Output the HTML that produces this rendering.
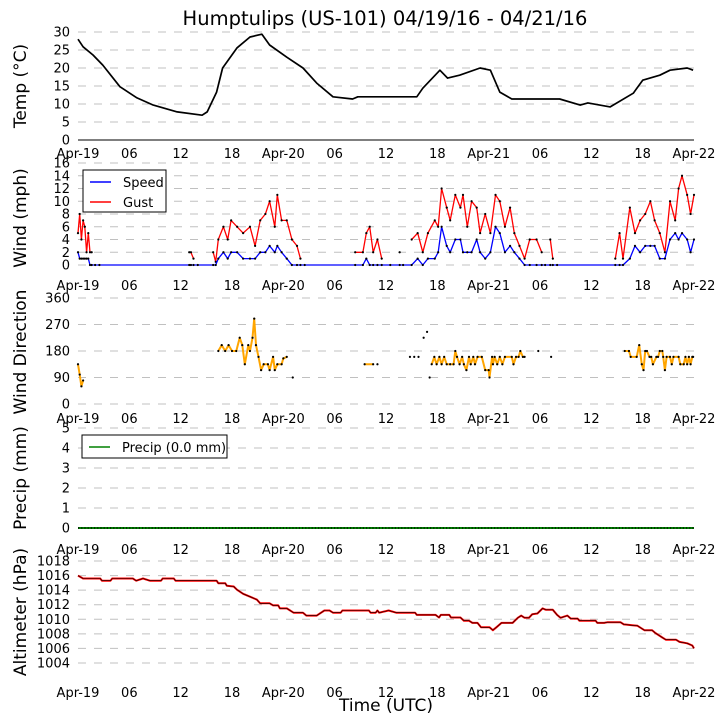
<!DOCTYPE html>
<html><head><meta charset="utf-8">
<style>
body{margin:0;background:#fff;}
svg{display:block;font-family:"DejaVu Sans","Liberation Sans",sans-serif;}
</style></head>
<body>
<svg id="chart" width="725" height="725" viewBox="0 0 725 725" xmlns="http://www.w3.org/2000/svg">
<text x="385" y="25" font-size="19.5" text-anchor="middle">Humptulips (US-101) 04/19/16 - 04/21/16</text>
<text x="386" y="711" font-size="17" text-anchor="middle">Time (UTC)</text>
<g id="panels"></g>
</svg>
<script>
const xTickLabels = ["Apr-19","06","12","18","Apr-20","06","12","18","Apr-21","06","12","18","Apr-22"];
const xTickHours = [0,6,12,18,24,30,36,42,48,54,60,66,72];

const tempHours = [0,0.6,1.75,2.9,4.9,6.9,8.8,11.6,14.5,15.1,16.2,16.9,18.6,20.1,21.5,22.4,24.4,26.3,27.9,29.8,32.1,32.7,39.6,40.3,42.3,43.2,44.6,47,48.2,49.3,50.7,56.3,58.7,59.6,62.2,64.9,66,68,69.2,71.2,71.9];
const tempVals = [28,25.9,23.6,20.8,14.8,11.7,9.7,7.8,6.9,7.8,13.3,20,25.6,28.6,29.4,26.4,23,20,15.8,12,11.4,12,12,14.4,19.4,17.2,18,20,19.4,13.3,11.4,11.4,9.7,10.3,9.2,13,16.6,18,19.4,20,19.4];

const windHours = [0,0.2,0.4,0.6,0.8,1,1.2,1.4,1.6,2,2.5,13,13.2,13.5,14,15.8,16.1,16.4,17,17.5,17.9,18.6,19.3,20.1,20.7,21.3,21.9,22.4,23,23.3,23.8,24.4,25,25.6,26,26.5,32.4,33.3,33.7,34.1,34.5,35,35.5,36.5,37.6,38,39,39.7,40.3,40.9,41.7,42.1,42.5,43.1,43.5,44.1,44.7,45,45.5,46,46.6,47,47.6,48.2,48.8,49.3,49.9,50.5,51,51.6,52.2,52.8,53.6,54.2,54.6,55.2,55.5,56,62.8,63.3,63.7,64.5,65.1,65.7,66.3,66.9,67.4,68,68.6,69.2,69.8,70.2,70.6,71.2,71.6,72];
const windSpeed = [2,1,1,1,1,1,1,0,0,0,0, 0,0,0,0, 0,0,1,2,1,2,2,1,1,1,2,2,3,2,3,2,1,0,0,0,0, 0,0,1,0,0,0,0,0,0,0, 0,1,0,1,1,2,6,3,2,4,4,2,2,2,4,2,1,2,6,5,2,3,2,1,0,0,0,0,0,0,0,0, 0,0,0,1,3,2,3,3,3,1,1,4,5,4,5,4,2,4];
const windGust = [5,8,4,7,6,2,5,2,2,null,null, 2,2,1,null, 2,0.5,4,6,4,7,6,5,6,3,7,8,10,6,11,7,7,4,3,1,null, 2,2,5,6,2,4,1,null,2,null, 4,5,2,5,7,6,12,9,7,11,9,11,6,10,9,5,8,5,11,10,6,9,5,3,1,4,4,2,null,4,1,null, 1,5,1,9,5,7,8,10,7,5,2,10,7,12,14,11,8,11];

const dirHours = [0,0.2,0.4,0.6,null,16.4,16.8,17.2,17.6,18.0,18.5,18.9,19.2,19.5,19.9,20.1,20.4,20.6,20.8,21.1,21.4,21.7,22.2,22.4,22.8,23.0,23.3,23.8,24.0,24.4,null,33.5,34.5,null,41.34,41.65,41.92,42.24,42.5,42.8,43.1,43.5,43.9,44.1,44.3,44.6,44.9,45.1,45.4,45.7,45.9,46.2,46.4,46.7,47.2,47.6,48.0,48.1,48.4,48.5,48.7,49.0,49.3,49.6,49.9,50.7,50.9,51.2,51.5,51.7,52.0,52.2,null,63.9,64.4,64.6,65.3,65.6,65.9,66.1,66.3,66.5,66.8,67.0,67.2,67.6,67.8,68.0,68.3,68.4,68.6,68.8,69.2,69.4,69.6,70.2,70.4,70.8,71.0,71.2,71.4,71.6,71.8,71.9];
const dirVals = [135,100,60,80,null,180,200,180,200,180,180,225,200,135,200,180,225,290,200,160,115,135,135,115,160,115,135,135,155,160,null,135,135,null,135,160,135,160,135,160,135,135,135,180,160,135,160,135,115,160,135,160,135,160,160,115,115,90,160,135,160,135,160,135,160,160,135,160,160,180,160,160,null,180,180,160,160,200,135,115,180,180,160,160,135,160,160,180,180,160,115,160,160,135,160,160,135,135,160,135,160,135,160,160];
const dirDotHours = [25.1,35,38.8,39.3,39.8,40.4,40.8,41.1,53.8,55.3];
const dirDotVals = [90,135,160,160,160,225,245,90,180,160];

const precipHours = [0,72];
const precipVals = [0,0];

const altHours = [0,0.6,2.6,2.8,3.8,4.0,6.4,6.8,7.6,8.4,9.7,9.9,11.2,11.4,16.2,16.4,17.2,17.4,18.2,18.6,19.3,20.1,20.9,21.3,22.4,22.8,23.4,23.6,24.4,25.2,26.3,26.7,27.9,28.8,29.4,29.8,30.7,30.9,34,34.2,34.8,35,35.2,36.3,37.2,39.4,39.6,41.8,42.2,42.4,43.4,43.6,44.7,45.1,45.7,46.1,46.7,47.1,48.1,48.5,48.9,49.5,50.8,51.4,51.8,52.2,52.7,53.1,53.7,54.3,54.7,55.5,56,56.4,57.2,57.6,58.4,58.6,60.5,60.7,61.5,61.9,63.4,63.8,65.4,66.2,67.1,67.5,68.3,68.7,69.9,70.3,71.2,71.8,72];
const altVals = [1016,1015.6,1015.6,1015.3,1015.3,1015.6,1015.6,1015.3,1015.6,1015.3,1015.3,1015.6,1015.6,1015.3,1015.3,1014.95,1014.95,1014.6,1014.5,1014.05,1013.5,1013.1,1012.7,1012.2,1012.2,1011.9,1011.9,1011.5,1011.5,1010.9,1010.9,1010.5,1010.5,1011.2,1011.2,1010.9,1010.9,1011.2,1011.2,1010.9,1010.9,1011.2,1010.9,1011.2,1010.9,1010.9,1010.6,1010.6,1010.25,1010.6,1010.6,1010.25,1010.25,1009.8,1009.8,1009.5,1009.5,1008.9,1008.9,1008.5,1008.9,1009.5,1009.5,1010.2,1010.5,1010.2,1010.2,1010.7,1010.8,1011.5,1011.3,1011.3,1010.6,1010.2,1010.5,1010.1,1010.1,1009.8,1009.8,1009.5,1009.5,1009.6,1009.6,1009.3,1009.1,1008.5,1008.5,1008.1,1007.5,1007.2,1007.2,1006.9,1006.7,1006.4,1006.0];

const tempTicks=[0,5,10,15,20,25,30];
const windTicks=[0,2,4,6,8,10,12,14,16];
const dirTicks=[0,90,180,270,360];
const precipTicks=[0,1,2,3,4,5];
const altTicks=[1004,1006,1008,1010,1012,1014,1016,1018];

const NS="http://www.w3.org/2000/svg";
const root=document.getElementById('panels');
const X0=78,X1=694;
const xs=h=>X0+(X1-X0)*h/72;
function mk(tag,attrs,parent){const e=document.createElementNS(NS,tag);for(const k in attrs)e.setAttribute(k,attrs[k]);(parent||root).appendChild(e);return e;}
function yscale(v0,y0,v1,y1){return v=>y0+(v-v0)*(y1-y0)/(v1-v0);}

function panel(name,ys,ticks,tickLabelY,ylabel,ylabelY,zeroSolid){
  const g=mk('g',{});
  
  
  ticks.forEach((t,i)=>{
    const y=ys(t);
    const solid=zeroSolid&&i===0;
    const ln=mk('line',{x1:X0,x2:X1,y1:y,y2:y,stroke:solid?'#333':'#c0c0c0','stroke-width':solid?1.2:1,'stroke-dasharray':solid?'none':'8,8'},g);
    
    
    const tx=mk('text',{x:70,y:y+4.5,'font-size':13,'text-anchor':'end'},g);
    tx.textContent=t;
    
    
  });
  xTickHours.forEach((h,i)=>{
    const tx=mk('text',{x:xs(h),y:tickLabelY,'font-size':13,'text-anchor':'middle'},g);
    tx.textContent=xTickLabels[i];
    
    
  });
  const yl=mk('text',{x:0,y:0,'font-size':17,'text-anchor':'middle',transform:`translate(26,${ylabelY}) rotate(-90)`},g);
  yl.textContent=ylabel;
  
  
  return g;
}
function series(g,name,hours,vals,ys,color,width,dots){
  let d='',pen=false;
  hours.forEach((h,i)=>{
    const v=vals[i];
    if(h===null||v===null){pen=false;return;}
    d+=(pen?'L':'M')+xs(h).toFixed(1)+' '+ys(v).toFixed(1)+' ';pen=true;
  });
  const p=mk('path',{d:d,fill:'none',stroke:color,'stroke-width':width,'stroke-linejoin':'round'},g);
  
  
  if(dots){hours.forEach((h,i)=>{const v=vals[i];if(h===null||v===null)return;
    const c=mk('circle',{cx:xs(h),cy:ys(v),r:1.1,fill:'#000'},g);
    
    
  });}
}
function legend(g,name,x,y,w,h,items){
  const lg=mk('g',{},g);
  
  
  mk('rect',{x:x,y:y,width:w,height:h,fill:'#fff',stroke:'#000','stroke-width':1},lg);
  items.forEach((it,i)=>{
    const yy=y+12+i*20;
    mk('line',{x1:x+7,x2:x+28,y1:yy,y2:yy,stroke:it[1],'stroke-width':1.5},lg);
    const t=mk('text',{x:x+40,y:yy+5,'font-size':13},lg);
    t.textContent=it[0];
    
    
  });
}

const yT=yscale(0,140,30,32);
const gT=panel('temp',yT,tempTicks,158,'Temp (\u00B0C)',86,true);
series(gT,'temp',tempHours,tempVals,yT,'#000',1.7,false);

const yW=yscale(0,265,16,163);
const gW=panel('wind',yW,windTicks,290,'Wind (mph)',218,false);
series(gW,'wind-gust',windHours,windGust,yW,'#ff0000',1.3,true);
series(gW,'wind-speed',windHours,windSpeed,yW,'#0000ff',1.3,true);
legend(gW,'wind-legend',83,170,83,42,[['Speed','#0000ff'],['Gust','#ff0000']]);

const yD=yscale(0,404,360,298);
const gD=panel('direction',yD,dirTicks,423,'Wind Direction',352,false);
series(gD,'wind-direction',dirHours,dirVals,yD,'#ffa500',2,true);
dirDotHours.forEach((h,i)=>{
  const c=mk('circle',{cx:xs(h),cy:yD(dirDotVals[i]),r:1.1,fill:'#000'},gD);
  
  
});

const yP=yscale(0,528,5,428);
const gP=panel('precip',yP,precipTicks,554,'Precip (mm)',478,false);
series(gP,'precip',precipHours,precipVals,yP,'#008000',2,false);
mk('line',{x1:X0,x2:X1,y1:yP(precipVals[0]),y2:yP(precipVals[1]),stroke:'#000','stroke-width':1.2,'stroke-dasharray':'1.2,2'},gP);
legend(gP,'precip-legend',82,435,145,23,[['Precip (0.0 mm)','#008000']]);

const yA=yscale(1004,663,1018,561);
const gA=panel('altimeter',yA,altTicks,697,'Altimeter (hPa)',612,false);
series(gA,'altimeter',altHours,altVals,yA,'#ff0000',2,false);
series(gA,'altimeter-marks',altHours,altVals,yA,'#000',0.6,false);
</script>
</body></html>
